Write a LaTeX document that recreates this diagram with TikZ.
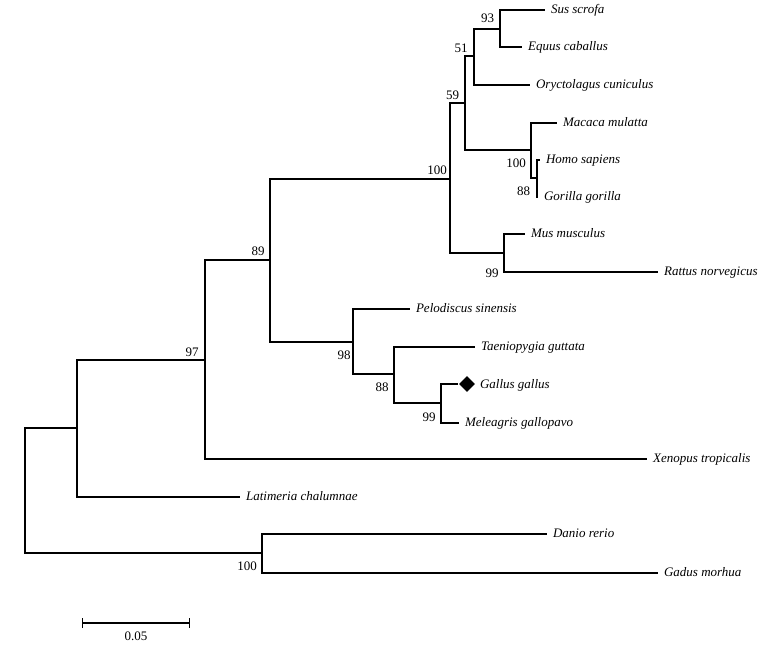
\documentclass[tikz,border=0pt]{standalone}
\usepackage{fontspec}
\setmainfont{Liberation Serif}
\usetikzlibrary{shapes.geometric,arrows.meta}
\begin{document}
\begin{tikzpicture}[x=1pt,y=-1pt,line width=1.1pt]
    \tikzstyle{every node}=[font=\fontsize{13}{15}\selectfont]
    \tikzstyle{taxon}=[anchor=west,inner xsep=5.5pt,text height=.9em,text depth=.24em,font=\fontsize{13}{15}\selectfont\itshape]
    \tikzstyle{boot}=[inner sep=0pt]
    \useasboundingbox (0,0) rectangle (773,647);
    % inner nodes of the tree
    \path coordinate(root)at(25,490) coordinate(n1)at(77,428)
          coordinate(fish)at(262,553) coordinate(n97)at(205,360)
          coordinate(n89)at(270,260) coordinate(mam)at(450,179)
          coordinate(n59)at(465,103) coordinate(n51)at(474,56)
          coordinate(n93)at(500,29) coordinate(prim)at(531,150)
          coordinate(hg)at(537,178) coordinate(rod)at(504,253)
          coordinate(n98)at(353,342) coordinate(n88)at(394,374)
          coordinate(n99)at(441,403);
    % taxa
    \draw node[taxon](sus)at(545,10){Sus scrofa}
          node[taxon](equus)at(522,47){Equus caballus}
          node[taxon](oryct)at(530,85){Oryctolagus cuniculus}
          node[taxon](macaca)at(557,123){Macaca mulatta}
          node[taxon](homo)at(540,160){Homo sapiens}
          node[taxon](gorilla)at(538,197){Gorilla gorilla}
          node[taxon](mus)at(525,234){Mus musculus}
          node[taxon](rattus)at(658,272){Rattus norvegicus}
          node[taxon](pelod)at(410,309){Pelodiscus sinensis}
          node[taxon](taen)at(475,347){Taeniopygia guttata}
          node[diamond,fill,inner sep=0pt,minimum size=16pt](mark)at(467,384){}
          node[taxon](gallus)at(474,385){Gallus gallus}
          node[taxon](meleag)at(459,423){Meleagris gallopavo}
          node[taxon](xenop)at(647,459){Xenopus tropicalis}
          node[taxon](latim)at(240,497){Latimeria chalumnae}
          node[taxon](danio)at(547,534){Danio rerio}
          node[taxon](gadus)at(658,573){Gadus morhua};
    % bootstrap values
    \draw node[boot](b93)at(487.5,18){93}
          node[boot](b51)at(461,48){51}
          node[boot](b59)at(452.5,95){59}
          node[boot](b100a)at(437,170){100}
          node[boot](b89)at(258,251){89}
          node[boot](b97)at(192,352){97}
          node[boot](b100b)at(516,163.5){100}
          node[boot](b88a)at(523.5,191){88}
          node[boot](b99a)at(492,273){99}
          node[boot](b98)at(344,355){98}
          node[boot](b88b)at(382,387.5){88}
          node[boot](b99b)at(429,417.5){99}
          node[boot](b100c)at(247,566){100};
    % branches
    \draw[-](root)|-(n1);
    \draw[-](root)|-(fish);
    \draw[-](n1)|-(n97);
    \draw[-](n1)|-(latim.west);
    \draw[-](fish)|-(danio.west);
    \draw[-](fish)|-(gadus.west);
    \draw[-](n97)|-(n89);
    \draw[-](n97)|-(xenop.west);
    \draw[-](n89)|-(mam);
    \draw[-](n89)|-(n98);
    \draw[-](mam)|-(n59);
    \draw[-](mam)|-(rod);
    \draw[-](n59)|-(n51);
    \draw[-](n59)|-(prim);
    \draw[-](n51)|-(n93);
    \draw[-](n51)|-(oryct.west);
    \draw[-](n93)|-(sus.west);
    \draw[-](n93)|-(equus.west);
    \draw[-](prim)|-(macaca.west);
    \draw[-](prim)|-(hg);
    \draw[-](hg)|-(homo.west);
    \draw[-](hg)|-(gorilla.west);
    \draw[-](rod)|-(mus.west);
    \draw[-](rod)|-(rattus.west);
    \draw[-](n98)|-(pelod.west);
    \draw[-](n98)|-(n88);
    \draw[-](n88)|-(taen.west);
    \draw[-](n88)|-(n99);
    \draw[-](n99)|-(mark.west);
    \draw[-](n99)|-(meleag.west);
    % scale bar
    \path coordinate(sa)at(82,623) coordinate(sb)at(190,623)
          node(scale)at(136,636){0.05};
    \draw[{Bar[width=10pt]}-{Bar[width=10pt]}](sa)--(sb);
\end{tikzpicture}
\end{document}
